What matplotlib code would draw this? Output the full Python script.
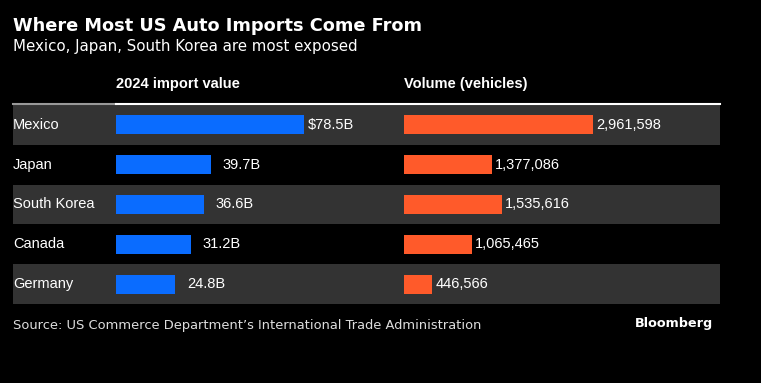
import matplotlib.pyplot as plt
from matplotlib.lines import Line2D

countries = ["Mexico", "Japan", "South Korea", "Canada", "Germany"]
import_value = [78.5, 39.7, 36.6, 31.2, 24.8]  # billions USD
volume = [2961598, 1377086, 1535616, 1065465, 446566]  # vehicles

BLUE = "#0A6CFF"
ORANGE = "#FF5A2A"
BAND = "#333333"
W, H = 761, 383

fig = plt.figure(figsize=(W / 100, H / 100), dpi=100, facecolor="black")


def box(x0, y0, x1, y1):
    # pixel box (from top-left) -> figure fraction rect
    return [x0 / W, 1 - y1 / H, (x1 - x0) / W, (y1 - y0) / H]


def fx(x):
    return x / W


def fy(y):
    return 1 - y / H


n = len(countries)
rows = list(range(n))

# row bands
bg = fig.add_axes(box(13, 105, 720, 304))
bg.set_xlim(0, 1)
bg.set_ylim(n - 0.5, -0.5)
for i in rows:
    if i % 2 == 0:
        bg.axhspan(i - 0.5, i + 0.5, color=BAND, lw=0)
bg.axis("off")

# import value bars
ax1 = fig.add_axes(box(116, 105, 396, 304))
ax1.barh(rows, import_value, height=0.48, color=BLUE)
ax1.set_xlim(0, 280 / (188 / 78.5))
ax1.set_ylim(n - 0.5, -0.5)
ax1.axis("off")
for i, v in enumerate(import_value):
    if i == 0:
        ax1.annotate(f"${v}B", (v, i), xytext=(3, 0), textcoords="offset points",
                     va="center", ha="left", color="white", fontsize=10.5,
                     family="Liberation Sans")
    else:
        ax1.annotate(f"{v}B", (v, i), xytext=(8.5, 0), textcoords="offset points",
                     va="center", ha="left", color="white", fontsize=10.5,
                     family="Liberation Sans")

# volume bars
ax2 = fig.add_axes(box(404, 105, 720, 304))
ax2.barh(rows, volume, height=0.48, color=ORANGE)
ax2.set_xlim(0, 316 / (189 / 2961598))
ax2.set_ylim(n - 0.5, -0.5)
ax2.axis("off")
for i, v in enumerate(volume):
    ax2.annotate(f"{v:,}", (v, i), xytext=(2, 0), textcoords="offset points",
                 va="center", ha="left", color="white", fontsize=10.5,
                 family="Liberation Sans")

# country labels
for i, c in enumerate(countries):
    bg.text(0, i, c, va="center", ha="left", color="white", fontsize=10.5,
            family="Liberation Sans", transform=bg.get_yaxis_transform())

# header line
fig.add_artist(Line2D([fx(13), fx(116)], [fy(103.5), fy(103.5)], color="#999999", lw=1.5))
fig.add_artist(Line2D([fx(116), fx(720)], [fy(103.5), fy(103.5)], color="white", lw=1.5))

# titles
fig.text(fx(13), fy(26), "Where Most US Auto Imports Come From", color="white",
         fontsize=12.8, fontweight="heavy", va="center", ha="left", family="DejaVu Sans")
fig.text(fx(13), fy(46), "Mexico, Japan, South Korea are most exposed", color="white",
         fontsize=10.8, va="center", ha="left", family="DejaVu Sans")
fig.text(fx(116), fy(84), "2024 import value", color="white", fontsize=10.5,
         fontweight="bold", va="center", ha="left", family="Liberation Sans")
fig.text(fx(404), fy(84), "Volume (vehicles)", color="white", fontsize=10.5,
         fontweight="bold", va="center", ha="left", family="Liberation Sans")

# footer
fig.text(fx(13), fy(325), "Source: US Commerce Department\u2019s International Trade Administration",
         color="#dddddd", fontsize=9.4, va="center", ha="left", family="DejaVu Sans")
fig.text(fx(713), fy(323), "Bloomberg", color="white", fontsize=9.2,
         fontweight="bold", va="center", ha="right", family="DejaVu Sans")

fig.savefig("out.png", dpi=100, facecolor="black")
